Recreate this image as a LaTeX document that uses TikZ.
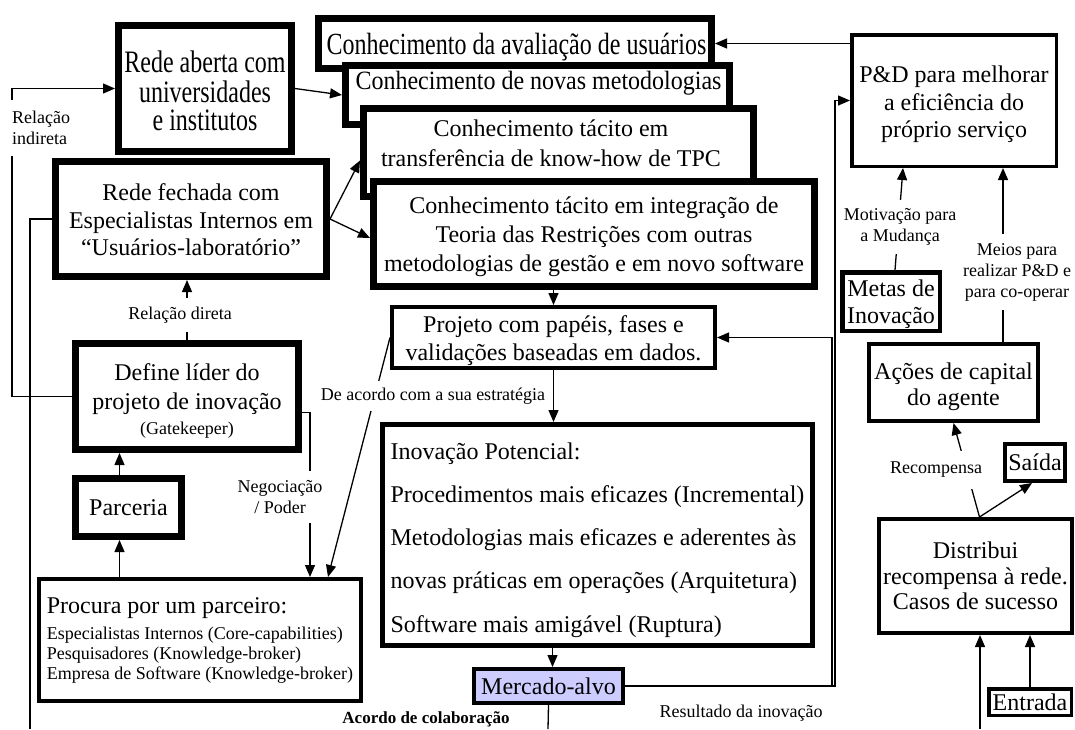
\documentclass[tikz,border=0pt]{standalone}
\usepackage{fontspec}
\usepackage{graphicx}
\setmainfont{Liberation Serif}
\usetikzlibrary{arrows.meta,calc}

\newcommand\boxfont{\fontsize{24}{27.5}\selectfont}
\newcommand\labfont{\fontsize{18}{21}\selectfont}
% taller lettering for a few boxes: the text block is stretched vertically
\newcommand\tallstack[3]{\scalebox{1}[#1]{\fontsize{24}{#2}\selectfont\begin{tabular}{@{}c@{}}#3\end{tabular}}}
% extra room above the first line of a box text
\newcommand\headroom[1]{\rule{0pt}{#1}}
\definecolor{lavender}{RGB}{204,204,255}

\begin{document}
\begin{tikzpicture}[x=1pt,y=-1pt,
  box/.style={draw, fill=white, inner sep=0pt, align=center, font=\boxfont},
  heavy/.style={box, line width=7pt},
  medium/.style={box, line width=4pt},
  cardtext/.style={inner sep=0pt, align=center, font=\boxfont},
  lab/.style={fill=white, inner xsep=2pt, align=center, font=\labfont},
  conn/.style={line width=1.3pt},
  arr/.style={conn, -{Triangle[length=12pt,width=10pt]}},
]
\fill[white] (0,0) rectangle (1075,729);
\useasboundingbox (0,0) rectangle (1075,729);

% knowledge cards, stacked back to front
\node[heavy, minimum width=393pt, minimum height=50pt] (evalK) at (515,43.5) {};
\node[cardtext] (evalKt) at (516.5,48) {\tallstack{1.28}{20}{Conhecimento da avaliação de usuários}};
\node[heavy, minimum width=384pt, minimum height=59pt] (methK) at (537.5,95) {};
\node[cardtext] (methKt) at (538.5,84) {\tallstack{1.1}{20}{Conhecimento de novas metodologias}};
\node[heavy, minimum width=390pt, minimum height=88pt] (tpcK) at (558.5,152.5) {};
\node[cardtext, font=\fontsize{24}{30}\selectfont] (tpcKt) at (551,143) {Conhecimento tácito em\\transferência de know-how de TPC};
\node[heavy, minimum width=441pt, minimum height=105pt, font=\fontsize{24}{29}\selectfont] (integK) at (594,234)
  {\headroom{22.4pt}Conhecimento tácito em integração de\\Teoria das Restrições com outras\\metodologias de gestão e em novo software};

% networks and partnership
\node[heavy, minimum width=173pt, minimum height=126pt] (openNet) at (205,88.5)
  {\raisebox{-6pt}[\height][\depth]{\tallstack{1.3}{19.5}{Rede aberta com\\universidades\\e institutos}}};
\node[heavy, minimum width=271pt, minimum height=115pt] (closedNet) at (191,219)
  {\headroom{19pt}Rede fechada com\\Especialistas Internos em\\“Usuários-laboratório”};
\node[heavy, minimum width=223pt, minimum height=106pt, font=\fontsize{24}{29}\selectfont] (leader) at (187,396.5)
  {\headroom{26.4pt}Define líder do\\projeto de inovação\\[-4pt]{\fontsize{18}{20}\selectfont (Gatekeeper)}};
\node[heavy, minimum width=106pt, minimum height=58pt] (partner) at (128.5,507.5) {Parceria};
\node[medium, minimum width=322pt, minimum height=122pt, align=left, font=\fontsize{18}{20}\selectfont] (search) at (200,640)
  {{\fontsize{24}{26}\selectfont Procura por um parceiro:}\\[6pt]Especialistas Internos (Core-capabilities)\\Pesquisadores (Knowledge-broker)\\Empresa de Software (Knowledge-broker)};

% project and innovation
\node[medium, minimum width=323pt, minimum height=61pt, font=\fontsize{24}{28}\selectfont] (project) at (553.5,337.5)
  {\headroom{24pt}Projeto com papéis, fases e\\validações baseadas em dados.};
\node[box, line width=5pt, minimum width=430pt, minimum height=221pt, align=left, font=\fontsize{24}{43.3}\selectfont] (innov) at (597.5,535)
  {\headroom{26.4pt}Inovação Potencial:\\Procedimentos mais eficazes (Incremental)\\Metodologias mais eficazes e aderentes às\\novas práticas em operações (Arquitetura)\\Software mais amigável (Ruptura)};
\node[medium, fill=lavender, minimum width=149pt, minimum height=34pt] (market) at (548.5,686) {Mercado-alvo};

% agent side
\node[box, line width=3.5pt, minimum width=204.5pt, minimum height=131.5pt] (rdBox) at (954,100.5)
  {\headroom{24.4pt}P\&D para melhorar\\a eficiência do\\próprio serviço};
\node[box, line width=4.5pt, minimum width=97.5pt, minimum height=58.5pt, font=\fontsize{24}{27}\selectfont] (goals) at (891,301.5)
  {\headroom{22.4pt}Metas de\\Inovação};
\node[medium, minimum width=169pt, minimum height=77pt, font=\fontsize{24}{26}\selectfont] (capital) at (953.5,382.5)
  {\headroom{24.4pt}Ações de capital\\do agente};
\node[medium, minimum width=60pt, minimum height=37pt] (exitB) at (1035,462.5) {Saída};
\node[medium, minimum width=193pt, minimum height=114pt, font=\fontsize{24}{25.5}\selectfont] (distrib) at (975.5,576)
  {Distribui\\recompensa à rede.\\Casos de sucesso};
\node[box, line width=3.5pt, minimum width=82.5pt, minimum height=26.5pt] (entry) at (1030,702) {Entrada};

% routing points
\coordinate (lx) at (12,0);
\coordinate (outL) at (30,729);
\coordinate (outM) at (548,729);
\coordinate (inR) at (980,729);
\coordinate (loopA) at (832,0);
\coordinate (loopB) at (835,0);
\coordinate (negx) at (310,0);
\coordinate (partUp) at ([xshift=-9pt]partner.north);
\coordinate (partDn) at ([xshift=-9pt]partner.south);
\coordinate (mkTop) at ([xshift=4pt]market.north);
\coordinate (capTop) at ([xshift=49.5pt]capital.north);
\coordinate (disTop) at ([xshift=4pt]distrib.north);

% connectors
\draw[arr] (leader.west) -- (leader.west -| lx) |- (openNet.west);
\draw[conn] (closedNet.west) -| (outL);
\draw[arr] (openNet.east) -- (methK.west);
\draw[arr] (closedNet.east) -- ([yshift=-8pt]tpcK.west);
\draw[arr] (closedNet.east) -- ([yshift=-4pt]integK.west);
\draw[arr] (leader.north) -- (leader.north |- closedNet.south);
\draw[arr] (partUp) -- (partUp |- leader.south);
\draw[arr] (partDn |- search.north) -- (partDn);
\draw[arr] ([yshift=-16pt]leader.east) -| (negx |- search.north);
\draw[arr] (project.west) -- ([xshift=128pt]search.north);
\draw[arr] (project.north |- integK.south) -- (project.north);
\draw[arr] (project.south) -- (project.south |- innov.north);
\draw[arr] (mkTop |- innov.south) -- (mkTop);
\draw[conn] (market.south) -- (outM);
\draw[arr] (market.east) -| (loopA |- project.east) -- (project.east);
\draw[arr] (market.east) -| (loopB |- rdBox.west) -- (rdBox.west);
\draw[arr] (rdBox.west |- evalK.east) -- (evalK.east);
\draw[arr] ([xshift=4pt]goals.north) -- ([xshift=-51pt]rdBox.south);
\draw[arr] (capTop) -- (capTop |- rdBox.south);
\draw[arr] (disTop) -- (capital.south);
\draw[arr] (disTop) -- ([xshift=-3pt]exitB.south);
\draw[arr] (entry.north) -- (entry.north |- distrib.south);
\draw[arr] (inR) -- (inR |- distrib.south);

% connector labels
\node[lab, align=left, minimum height=56pt, anchor=west] (relInd) at (10,128) {Relação\\indireta};
\node[lab, inner ysep=9pt] (relDir) at (180,315) {Relação direta};
\node[lab, inner ysep=9pt] (negPow) at (280,497) {Negociação\\/ Poder};
\node[lab, inner ysep=7pt] (strat) at (433,396) {De acordo com a sua estratégia};
\node[lab, inner ysep=9pt] (motiv) at (900,227) {Motivação para\\a Mudança};
\node[lab, inner ysep=9pt] (means) at (1017,272) {Meios para\\realizar P\&D e\\para co-operar};
\node[lab, inner ysep=11pt, inner xsep=0pt] (reward) at (936,470) {Recompensa};
\node[lab] (result) at (741,713) {Resultado da inovação};
\node[lab, font=\fontsize{17}{20}\selectfont\bfseries] (agree) at (426,719) {Acordo de colaboração};
\end{tikzpicture}
\end{document}
